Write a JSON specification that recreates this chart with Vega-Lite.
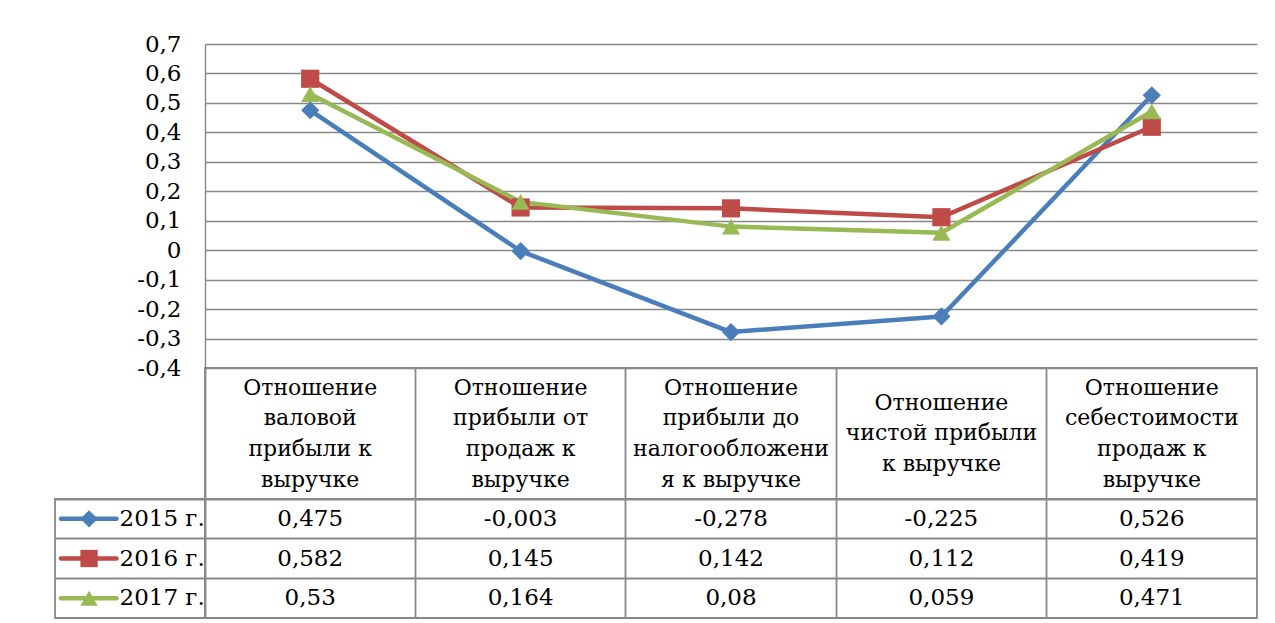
{
  "$schema": "https://vega.github.io/schema/vega-lite/v6.json",
  "autosize": {"type": "pad"},
  "padding": {"left": 54, "top": 33, "right": 19, "bottom": 5},
  "background": "white",
  "config": {
    "font": "DejaVu Serif",
    "view": {"stroke": null},
    "text": {"font": "DejaVu Serif", "fontSize": 23, "color": "black"},
    "axis": {"labelFont": "DejaVu Serif"}
  },
  "columns": 2,
  "spacing": 0,
  "bounds": "flush",
  "datasets": {
    "vals": [
      {"cat": "Отношение\nваловой\nприбыли к\nвыручке", "series": "2015 г.", "value": 0.475},
      {"cat": "Отношение\nприбыли от\nпродаж к\nвыручке", "series": "2015 г.", "value": -0.003},
      {"cat": "Отношение\nприбыли до\nналогообложени\nя к выручке", "series": "2015 г.", "value": -0.278},
      {"cat": "Отношение\nчистой прибыли\nк выручке", "series": "2015 г.", "value": -0.225},
      {"cat": "Отношение\nсебестоимости\nпродаж к\nвыручке", "series": "2015 г.", "value": 0.526},
      {"cat": "Отношение\nваловой\nприбыли к\nвыручке", "series": "2016 г.", "value": 0.582},
      {"cat": "Отношение\nприбыли от\nпродаж к\nвыручке", "series": "2016 г.", "value": 0.145},
      {"cat": "Отношение\nприбыли до\nналогообложени\nя к выручке", "series": "2016 г.", "value": 0.142},
      {"cat": "Отношение\nчистой прибыли\nк выручке", "series": "2016 г.", "value": 0.112},
      {"cat": "Отношение\nсебестоимости\nпродаж к\nвыручке", "series": "2016 г.", "value": 0.419},
      {"cat": "Отношение\nваловой\nприбыли к\nвыручке", "series": "2017 г.", "value": 0.53},
      {"cat": "Отношение\nприбыли от\nпродаж к\nвыручке", "series": "2017 г.", "value": 0.164},
      {"cat": "Отношение\nприбыли до\nналогообложени\nя к выручке", "series": "2017 г.", "value": 0.08},
      {"cat": "Отношение\nчистой прибыли\nк выручке", "series": "2017 г.", "value": 0.059},
      {"cat": "Отношение\nсебестоимости\nпродаж к\nвыручке", "series": "2017 г.", "value": 0.471}
    ],
    "cats": [
      {"cat": "Отношение\nваловой\nприбыли к\nвыручке"},
      {"cat": "Отношение\nприбыли от\nпродаж к\nвыручке"},
      {"cat": "Отношение\nприбыли до\nналогообложени\nя к выручке"},
      {"cat": "Отношение\nчистой прибыли\nк выручке"},
      {"cat": "Отношение\nсебестоимости\nпродаж к\nвыручке"}
    ],
    "series": [
      {"series": "2015 г."},
      {"series": "2016 г."},
      {"series": "2017 г."}
    ]
  },
  "concat": [
    {
      "width": 150, "height": 324,
      "data": {"values": []},
      "mark": "point"
    },
    {
      "width": 1052, "height": 324,
      "data": {"name": "vals"},
      "encoding": {
        "x": {"field": "cat", "type": "nominal", "sort": null, "scale": {"type": "point", "padding": 0.5}, "axis": null},
        "y": {
          "field": "value", "type": "quantitative",
          "scale": {"domain": [-0.4, 0.7], "nice": false, "zero": false},
          "axis": {
            "values": [-0.4, -0.3, -0.2, -0.1, 0, 0.1, 0.2, 0.3, 0.4, 0.5, 0.6, 0.7],
            "title": null, "grid": true, "gridColor": "#888888", "gridWidth": 1.4,
            "domain": true, "domainColor": "#888888", "domainWidth": 1.4,
            "ticks": false, "tickSize": 0, "labelPadding": 24,
            "labelFont": "DejaVu Serif",
            "labelFontSize": 23, "labelColor": "black", "labelOverlap": false, "labelBound": false,
            "labelExpr": "(datum.value < -0.001 ? '-' : '') + (abs(datum.value) < 0.001 ? '0' : replace(format(abs(datum.value), '.1f'), '.', ','))"
          }
        },
        "color": {"field": "series", "type": "nominal", "scale": {"domain": ["2015 г.", "2016 г.", "2017 г."], "range": ["#4A7EBB", "#BE4B48", "#98B954"]}, "legend": null}
      },
      "layer": [
        {"mark": {"type": "line", "strokeWidth": 4.5, "strokeCap": "round", "strokeJoin": "round"}},
        {
          "mark": {"type": "point", "filled": true, "opacity": 1, "size": 330},
          "encoding": {"shape": {"field": "series", "type": "nominal", "scale": {"domain": ["2015 г.", "2016 г.", "2017 г."], "range": ["diamond", "square", "triangle-up"]}, "legend": null}}
        }
      ]
    },
    {
      "width": 150, "height": 131,
      "data": {"values": []},
      "mark": "point"
    },
    {
      "width": 1052, "height": 131,
      "data": {"name": "cats"},
      "view": {"stroke": "#888888", "strokeWidth": 1.8},
      "encoding": {
        "x": {"field": "cat", "type": "nominal", "sort": null,
          "scale": {"type": "band", "paddingInner": 0, "paddingOuter": 0,
            "domain": ["Отношение\nваловой\nприбыли к\nвыручке", "Отношение\nприбыли от\nпродаж к\nвыручке", "Отношение\nприбыли до\nналогообложени\nя к выручке", "Отношение\nчистой прибыли\nк выручке", "Отношение\nсебестоимости\nпродаж к\nвыручке"]},
          "axis": {"title": null, "labels": false, "ticks": false, "domain": false, "grid": true, "bandPosition": 0, "gridColor": "#888888", "gridWidth": 1.8}},
        "text": {"field": "cat"}
      },
      "layer": [
        {
          "transform": [{"filter": "length(split(datum.cat, '\\n')) == 4"}],
          "mark": {"type": "text", "font": "DejaVu Serif", "fontSize": 22, "lineBreak": "\n", "lineHeight": 30.7, "baseline": "middle", "align": "center", "dy": -46}
        },
        {
          "transform": [{"filter": "length(split(datum.cat, '\\n')) == 3"}],
          "mark": {"type": "text", "font": "DejaVu Serif", "fontSize": 22, "lineBreak": "\n", "lineHeight": 30.7, "baseline": "middle", "align": "center", "dy": -30.7}
        }
      ]
    },
    {
      "width": 150, "height": 119,
      "data": {"name": "series"},
      "view": {"stroke": "#888888", "strokeWidth": 1.8},
      "encoding": {
        "y": {"field": "series", "type": "nominal", "sort": null, "scale": {"type": "band", "paddingInner": 0, "paddingOuter": 0},
          "axis": {"title": null, "labels": false, "ticks": false, "domain": false, "grid": true, "bandPosition": 0, "gridColor": "#888888", "gridWidth": 1.8}}
      },
      "layer": [
        {
          "mark": {"type": "rule", "strokeWidth": 4.5, "strokeCap": "round"},
          "encoding": {
            "x": {"datum": 0.04, "type": "quantitative", "scale": {"domain": [0, 1], "nice": false, "zero": false}, "axis": null},
            "x2": {"datum": 0.41},
            "color": {"field": "series", "type": "nominal", "scale": {"domain": ["2015 г.", "2016 г.", "2017 г."], "range": ["#4A7EBB", "#BE4B48", "#98B954"]}, "legend": null}
          }
        },
        {
          "mark": {"type": "point", "filled": true, "opacity": 1, "size": 300},
          "encoding": {
            "x": {"datum": 0.227, "type": "quantitative"},
            "color": {"field": "series", "type": "nominal", "scale": {"domain": ["2015 г.", "2016 г.", "2017 г."], "range": ["#4A7EBB", "#BE4B48", "#98B954"]}, "legend": null},
            "shape": {"field": "series", "type": "nominal", "scale": {"domain": ["2015 г.", "2016 г.", "2017 г."], "range": ["diamond", "square", "triangle-up"]}, "legend": null}
          }
        },
        {
          "mark": {"type": "text", "font": "DejaVu Serif", "align": "left", "baseline": "middle", "fontSize": 23, "color": "black"},
          "encoding": {
            "x": {"datum": 0.43, "type": "quantitative"},
            "text": {"field": "series"}
          }
        }
      ]
    },
    {
      "width": 1052, "height": 119,
      "data": {"name": "vals"},
      "transform": [{"calculate": "replace('' + datum.value, '.', ',')", "as": "label"}],
      "view": {"stroke": "#888888", "strokeWidth": 1.8},
      "mark": {"type": "text", "font": "DejaVu Serif", "fontSize": 23, "baseline": "middle", "align": "center", "color": "black"},
      "encoding": {
        "x": {"field": "cat", "type": "nominal", "sort": null, "scale": {"type": "band", "paddingInner": 0, "paddingOuter": 0},
          "axis": {"title": null, "labels": false, "ticks": false, "domain": false, "grid": true, "bandPosition": 0, "gridColor": "#888888", "gridWidth": 1.8}},
        "y": {"field": "series", "type": "nominal", "sort": null, "scale": {"type": "band", "paddingInner": 0, "paddingOuter": 0},
          "axis": {"title": null, "labels": false, "ticks": false, "domain": false, "grid": true, "bandPosition": 0, "gridColor": "#888888", "gridWidth": 1.8}},
        "text": {"field": "label"}
      }
    }
  ]
}
